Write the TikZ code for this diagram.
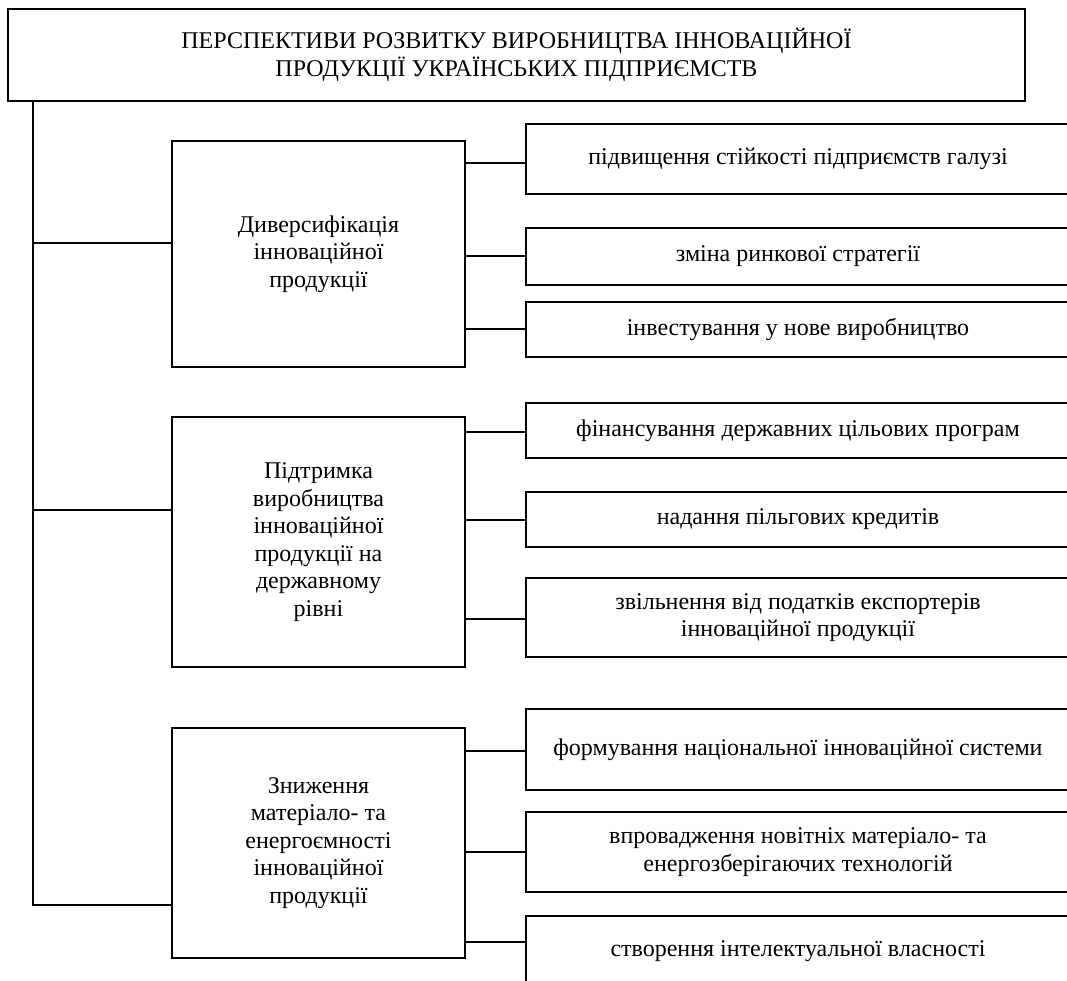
\documentclass[tikz,border=0pt]{standalone}
\usepackage{fontspec}
\setmainfont{Liberation Serif}

\begin{document}
\begin{tikzpicture}[x=1pt, y=-1pt, line width=2pt,
    font=\fontsize{24}{27.5}\selectfont,
    mainbox/.style={draw, align=center, minimum width=293pt, inner sep=0pt},
    itembox/.style={draw, align=center, minimum width=544pt, inner sep=0pt}]
  \clip (0,0) rectangle (1067,981);

  \node[draw, align=center, minimum width=1017pt, minimum height=92pt] (title) at (516.5,55) {ПЕРСПЕКТИВИ РОЗВИТКУ ВИРОБНИЦТВА ІННОВАЦІЙНОЇ\\ПРОДУКЦІЇ УКРАЇНСЬКИХ ПІДПРИЄМСТВ};

  % three directions
  \node[mainbox, minimum height=226pt] (div) at (318.5,254) {Диверсифікація\\інноваційної\\продукції};
  \node[mainbox, minimum height=250pt] (sup) at (318.5,542) {Підтримка\\виробництва\\інноваційної\\продукції на\\державному\\рівні};
  \node[mainbox, minimum height=230pt] (low) at (318.5,843) {Зниження\\матеріало- та\\енергоємності\\інноваційної\\продукції};

  % measures
  \node[itembox, minimum height=70pt] (r1) at (798,159) {підвищення стійкості підприємств галузі};
  \node[itembox, minimum height=57pt] (r2) at (798,256.5) {зміна ринкової стратегії};
  \node[itembox, minimum height=55pt] (r3) at (798,329.5) {інвестування у нове виробництво};
  \node[itembox, minimum height=55pt] (r4) at (798,430.5) {фінансування державних цільових програм};
  \node[itembox, minimum height=55pt] (r5) at (798,519.5) {надання пільгових кредитів};
  \node[itembox, minimum height=79pt] (r6) at (798,617.5) {звільнення від податків експортерів\\інноваційної продукції};
  \node[itembox, minimum height=81pt] (r7) at (798,749.5) {формування національної інноваційної системи};
  \node[itembox, minimum height=80pt] (r8) at (798,852) {впровадження новітніх матеріало- та\\енергозберігаючих технологій};
  \node[itembox, minimum height=70pt] (r9) at (798,951) {створення інтелектуальної власності};

  % trunk from the title
  \coordinate (trunk) at (33,101);
  \draw (trunk) |- ([yshift=-62pt]low.west);
  \draw ([yshift=11pt]div.west) -- ([yshift=11pt]div.west -| trunk);
  \draw ([yshift=32pt]sup.west) -- ([yshift=32pt]sup.west -| trunk);

  \foreach \src/\dst/\dy in {div/r1/-4, div/r2/0.5, div/r3/0.5, sup/r4/-1.5, sup/r5/-0.5, sup/r6/-1.5, low/r7/-1.5, low/r8/0, low/r9/9}
    \draw ([yshift=\dy pt]\dst.west) -- ([yshift=\dy pt]\dst.west -| \src.east);
\end{tikzpicture}
\end{document}
